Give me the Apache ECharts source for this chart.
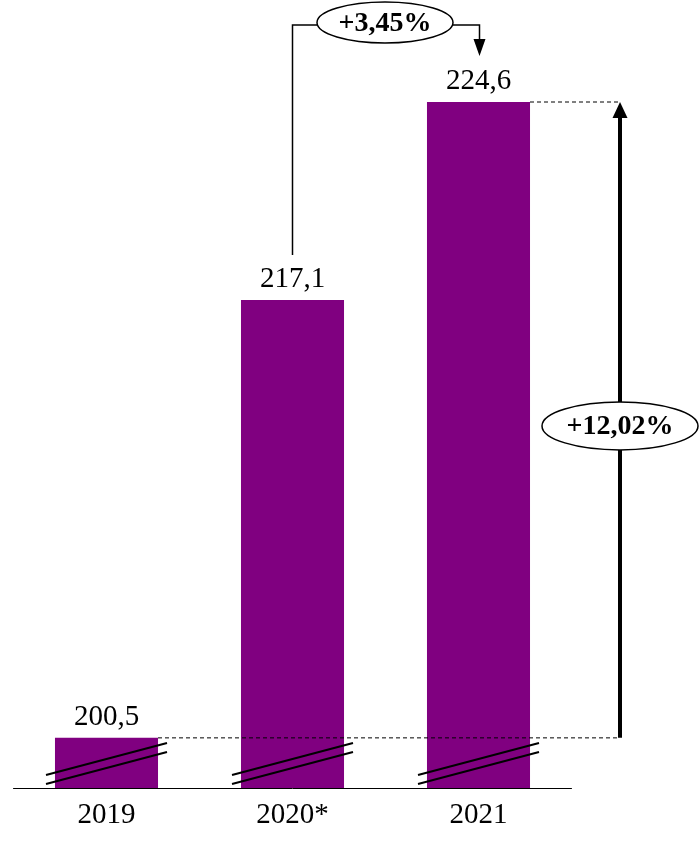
<!DOCTYPE html>
<html>
<head>
<meta charset="utf-8">
<script src="https://cdn.jsdelivr.net/npm/echarts@6/dist/echarts.min.js"></script>
<style>html,body{margin:0;padding:0;background:#fff;}#c{width:699px;height:851px;}</style>
</head>
<body>
<div id="c"></div>
<script>
var categories = ['2019', '2020*', '2021'];
var values = [200.5, 217.1, 224.6];
var valueLabels = ['200,5', '217,1', '224,6'];
var changeLabels = ['+3,45%', '+12,02%'];
var axisMin = 198.6;
var axisMax = 224.6;

var FONT = '"Liberation Serif", "Times New Roman", serif';
var chart = echarts.init(document.getElementById('c'), null, {renderer: 'canvas'});
chart.setOption({
  animation: false,
  backgroundColor: '#ffffff',
  grid: {left: 13.5, right: 127.5, top: 102, bottom: 63, containLabel: false},
  xAxis: {
    type: 'category',
    data: categories,
    axisLine: {lineStyle: {color: '#000', width: 1}},
    axisTick: {show: false},
    axisLabel: {color: '#000', fontFamily: FONT, fontSize: 29, margin: 13}
  },
  yAxis: {type: 'value', min: axisMin, max: axisMax, show: false, splitLine: {show: false}},
  series: [{
    type: 'bar',
    data: values,
    barWidth: '55.4%',
    itemStyle: {color: '#800080'},
    label: {
      show: true, position: 'top', distance: 6, color: '#000',
      fontFamily: FONT, fontSize: 29,
      formatter: function (p) { return valueLabels[p.dataIndex]; }
    }
  }]
});

function px(i, v) { return chart.convertToPixel({seriesIndex: 0}, [i, v]); }
var base = px(0, axisMin)[1];
var halfW = 51.5;
var g = [];
// break marks
for (var i = 0; i < values.length; i++) {
  var cx = px(i, values[i])[0];
  [[-13, -45], [-4, -36]].forEach(function (o) {
    g.push({type: 'line', shape: {x1: cx - 60.5, y1: base + o[0], x2: cx + 60.5, y2: base + o[1]},
      style: {stroke: '#000', lineWidth: 2}, z: 10});
  });
}
var p0 = px(0, values[0]), p1 = px(1, values[1]), p2 = px(2, values[2]);
var ax = p2[0] + 141.5;
// dashed guides
g.push({type: 'line', shape: {x1: p0[0] + halfW, y1: p0[1], x2: ax, y2: p0[1]},
  style: {stroke: '#000', lineWidth: 1, lineDash: [4, 3]}, z: 5});
g.push({type: 'line', shape: {x1: p2[0] + halfW, y1: p2[1], x2: ax, y2: p2[1]},
  style: {stroke: '#000', lineWidth: 1, lineDash: [4, 3]}, z: 5});
// vertical arrow
g.push({type: 'line', shape: {x1: ax, y1: p0[1], x2: ax, y2: p2[1] + 14},
  style: {stroke: '#000', lineWidth: 4}, z: 6});
g.push({type: 'polygon', shape: {points: [[ax, p2[1]], [ax - 7.5, p2[1] + 16], [ax + 7.5, p2[1] + 16]]},
  style: {fill: '#000'}, z: 6});
// ellipse +12,02%
var ey = (p0[1] + p2[1]) / 2 + 6;
g.push({type: 'ellipse', shape: {cx: ax, cy: ey, rx: 78, ry: 24},
  style: {fill: '#fff', stroke: '#000', lineWidth: 1.5}, z: 7});
g.push({type: 'text', x: ax, y: ey + 1, z: 8,
  style: {text: changeLabels[1], fill: '#000', font: 'bold 28px ' + FONT, align: 'center', verticalAlign: 'middle'}});
// bracket +3,45%
var ty = 25;
var ecx = 385;
g.push({type: 'polyline', shape: {points: [[p1[0], p1[1] - 45], [p1[0], ty], [ecx - 68, ty]]},
  style: {stroke: '#000', lineWidth: 1.5, fill: null}, z: 6});
g.push({type: 'polyline', shape: {points: [[ecx + 68, ty], [p2[0] + 1, ty], [p2[0] + 1, 40]]},
  style: {stroke: '#000', lineWidth: 1.5, fill: null}, z: 6});
g.push({type: 'polygon', shape: {points: [[p2[0] + 1, 56], [p2[0] - 5, 39], [p2[0] + 7, 39]]},
  style: {fill: '#000'}, z: 6});
g.push({type: 'ellipse', shape: {cx: ecx, cy: 22.5, rx: 68, ry: 20.5},
  style: {fill: '#fff', stroke: '#000', lineWidth: 1.5}, z: 7});
g.push({type: 'text', x: ecx, y: 23.5, z: 8,
  style: {text: changeLabels[0], fill: '#000', font: 'bold 28px ' + FONT, align: 'center', verticalAlign: 'middle'}});
chart.setOption({graphic: {elements: g}});
</script>
</body>
</html>
